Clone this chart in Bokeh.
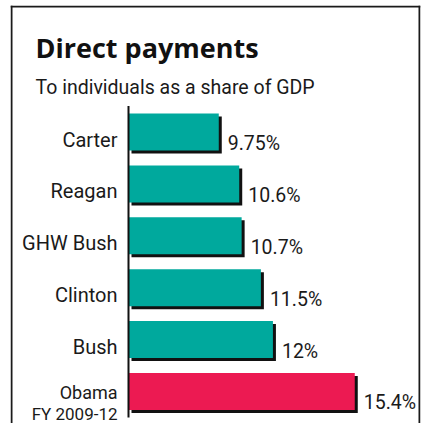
from bokeh.plotting import figure
from bokeh.models import ColumnDataSource, Range1d
from bokeh.core.properties import value
from bokeh.embed import file_html
from bokeh.resources import INLINE

# ---- data ----
title = "Direct payments"
subtitle = "To individuals as a share of GDP"
presidents = ["Carter", "Reagan", "GHW Bush", "Clinton", "Bush", "Obama"]
sublabels = ["", "", "", "", "", "FY 2009-12"]
shares = [9.75, 10.6, 10.7, 11.5, 12.0, 15.4]
value_labels = ["9.75%", "10.6%", "10.7%", "11.5%", "12%", "15.4%"]
highlight = [False, False, False, False, False, True]

# ---- layout constants ----
BASE = 6.0
X_START, X_END = 1.0976, 18.131
Y_TOP, Y_BOTTOM = -2.4374, 5.6166
W, H = 425, 423
ML, MR, MT = 10, 5, 5
frame_w = W - ML - MR
frame_h = H - MT
ux = (X_END - X_START) / frame_w
uy = (Y_BOTTOM - Y_TOP) / frame_h
SH = 3  # shadow offset px

TEAL = "#00A99D"
RED = "#EC1A52"
INK = "#1a1a1a"
FONT = value("Roboto")

n = len(presidents)
pos = list(range(n))

src = ColumnDataSource(dict(
    y=pos,
    ys=[i + SH * uy for i in pos],
    right=shares,
    rights=[v + SH * ux for v in shares],
    color=[RED if h else TEAL for h in highlight],
    name=presidents,
    sub=sublabels,
    vlab=value_labels,
    lsize=["18px" if h else "20px" for h in highlight],
    ldy=[1 if h else 7.5 for h in highlight],
))

p = figure(width=W, height=H,
           x_range=Range1d(X_START, X_END),
           y_range=Range1d(Y_BOTTOM, Y_TOP),
           output_backend="svg", toolbar_location=None,
           x_axis_location=None, y_axis_location=None,
           min_border_left=ML, min_border_right=MR,
           min_border_top=MT, min_border_bottom=0)
p.grid.visible = False
p.outline_line_color = None
p.background_fill_color = "white"
p.border_fill_color = "white"

# frame border (left, top, right)
p.segment(x0=[X_START + ux, X_START, X_END - ux],
          y0=[Y_BOTTOM, Y_TOP + uy, Y_TOP],
          x1=[X_START + ux, X_END, X_END - ux],
          y1=[Y_TOP, Y_TOP + uy, Y_BOTTOM],
          line_color=INK, line_width=2)

BAR_H = 0.713
# shadows
p.hbar(y="ys", left=BASE + SH * ux, right="rights", height=BAR_H,
       fill_color="#111111", line_color=None, source=src)
# bars
p.hbar(y="y", left=BASE, right="right", height=BAR_H,
       fill_color="color", line_color=None, source=src)
# axis line
p.segment(x0=[BASE], y0=[-0.5], x1=[BASE], y1=[n - 0.5],
          line_color="#111111", line_width=2)

# category labels
p.text(x=BASE, y="y", text="name", source=src, x_offset=-11, y_offset="ldy",
       text_align="right", text_baseline="alphabetic",
       text_font=FONT, text_font_size="lsize", text_color=INK)
p.text(x=BASE, y="y", text="sub", source=src, x_offset=-11, y_offset=23,
       text_align="right", text_baseline="alphabetic",
       text_font=FONT, text_font_size="17px", text_color=INK)
# value labels
p.text(x="right", y="y", text="vlab", source=src, x_offset=9, y_offset=11.5,
       text_align="left", text_baseline="alphabetic",
       text_font=FONT, text_font_size="19.5px", text_color=INK)

# title & subtitle
p.text(x=[X_START], y=[Y_TOP], text=[title], x_offset=25, y_offset=42,
       text_align="left", text_baseline="alphabetic",
       text_font=value("Open Sans"), text_font_style="bold",
       text_font_size="27px", text_color="#111111")
p.text(x=[X_START], y=[Y_TOP], text=[subtitle], x_offset=25, y_offset=82,
       text_align="left", text_baseline="alphabetic",
       text_font=FONT, text_font_size="19.5px", text_color=INK)

open("out.html", "w").write(file_html(p, INLINE))
